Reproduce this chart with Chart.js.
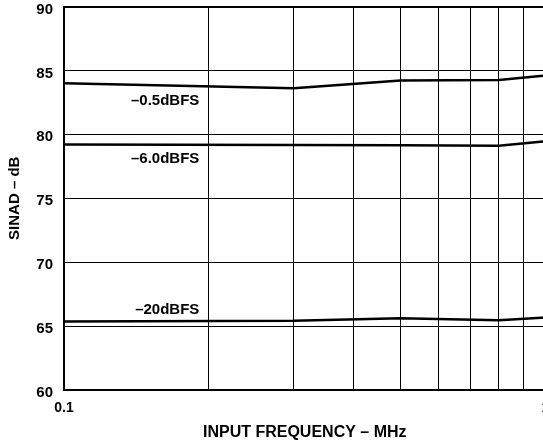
<!DOCTYPE html>
<html>
<head>
<meta charset="utf-8">
<script src="https://cdn.jsdelivr.net/npm/chart.js@4/dist/chart.umd.min.js"></script>
<style>
  body { margin: 0; overflow: hidden; background: #fff; }
  #wrap { width: 560px; height: 444px; }
</style>
</head>
<body>
<div id="wrap"><canvas id="chart"></canvas></div>
<script>
// input frequency, MHz
const freqs = [0.1, 0.3, 0.5, 0.8, 1.0];
// SINAD, dB
const sinadM05 = [84.0, 83.6, 84.22, 84.26, 84.6];
const sinadM6 = [79.2, 79.17, 79.14, 79.1, 79.45];
const sinadM20 = [65.36, 65.41, 65.62, 65.46, 65.68];

const seriesNames = ['–0.5dBFS', '–6.0dBFS', '–20dBFS'];
const nameFreq = 0.191;
const nameLevels = [82.58, 78.07, 66.27];

const xGrid = [0.1, 0.2, 0.3, 0.4, 0.5, 0.6, 0.7, 0.8, 0.9, 1];
const xLabels = { 0.1: '0.1', 1: '1' };
const yTicks = [60, 65, 70, 75, 80, 85, 90];

const FONT = '"Liberation Sans", Arial, sans-serif';

function series(values) {
    return {
        data: freqs.map((f, i) => ({ x: f, y: values[i] })),
        borderColor: '#000',
        borderWidth: 2.5,
        pointRadius: 0,
        tension: 0,
        fill: false
    };
}

// names written next to each curve
const curveNames = {
    id: 'curveNames',
    afterDatasetsDraw(chart) {
        const { ctx, scales } = chart;
        ctx.save();
        ctx.font = 'bold 15px ' + FONT;
        ctx.fillStyle = '#000';
        ctx.textAlign = 'right';
        ctx.textBaseline = 'middle';
        seriesNames.forEach((name, i) => {
            ctx.fillText(name, scales.x.getPixelForValue(nameFreq), scales.y.getPixelForValue(nameLevels[i]));
        });
        ctx.restore();
    }
};

new Chart(document.getElementById('chart'), {
    type: 'line',
    data: {
        datasets: [series(sinadM05), series(sinadM6), series(sinadM20)]
    },
    options: {
        responsive: true,
        maintainAspectRatio: false,
        animation: false,
        layout: { padding: { top: 6.5, right: 14.5, left: 0, bottom: 0 } },
        plugins: { legend: { display: false }, tooltip: { enabled: false } },
        scales: {
            x: {
                type: 'logarithmic',
                min: 0.1,
                max: 1,
                afterBuildTicks(axis) {
                    axis.ticks = xGrid.map(v => ({ value: v }));
                },
                afterFit(axis) { axis.height = 54; },
                // invisible tick marks hold the labels away from the axis
                grid: { color: '#000', lineWidth: 1, drawTicks: true, tickLength: 11, tickColor: 'rgba(0,0,0,0)' },
                border: { color: '#000', width: 2 },
                ticks: {
                    autoSkip: false,
                    maxRotation: 0,
                    padding: 0,
                    color: '#000',
                    font: { family: FONT, size: 14, weight: 'bold', lineHeight: 1 },
                    callback: v => xLabels[v] || ''
                },
                title: {
                    display: true,
                    text: 'INPUT FREQUENCY – MHz',
                    color: '#000',
                    font: { family: FONT, size: 16, weight: 'bold' },
                    padding: { top: 0, bottom: 1.5 }
                }
            },
            y: {
                min: 60,
                max: 90,
                afterBuildTicks(axis) {
                    axis.ticks = yTicks.map(v => ({ value: v }));
                },
                afterFit(axis) { axis.width = 64; },
                grid: {
                    color: '#000',
                    drawTicks: true,
                    tickLength: 11,
                    tickColor: 'rgba(0,0,0,0)',
                    lineWidth: c => (c.tick && c.tick.value === 90 ? 2 : 1)
                },
                border: { color: '#000', width: 2 },
                ticks: {
                    padding: 0,
                    labelOffset: 3,
                    color: '#000',
                    font: { family: FONT, size: 15, weight: 'bold', lineHeight: 0.85 }
                },
                title: {
                    display: true,
                    text: 'SINAD – dB',
                    color: '#000',
                    font: { family: FONT, size: 15, weight: 'bold' },
                    padding: { top: 6, bottom: 0 }
                }
            }
        }
    },
    plugins: [curveNames]
});
</script>
</body>
</html>
